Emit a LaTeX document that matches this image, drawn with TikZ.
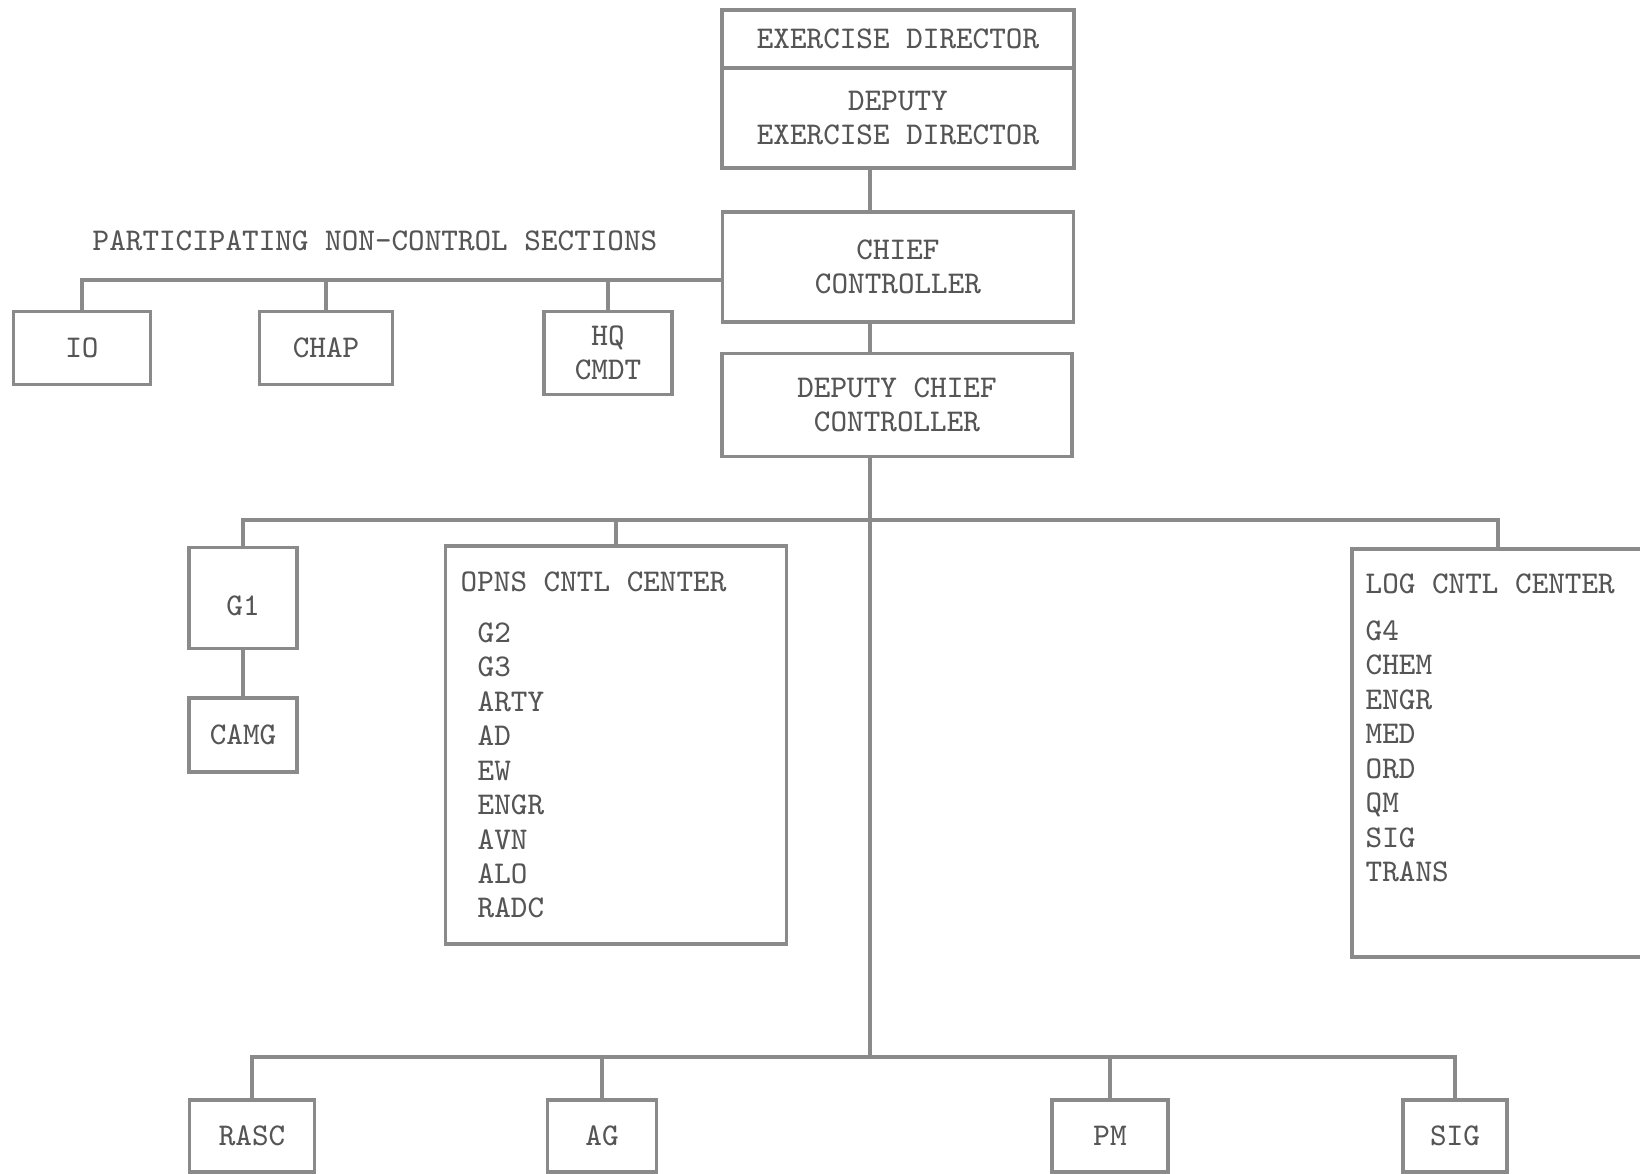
\documentclass[tikz,border=0pt]{standalone}
\usepackage{fontspec}
\usetikzlibrary{positioning}
\definecolor{ink}{HTML}{555555}
\definecolor{rulegray}{HTML}{8A8A8A}

\begin{document}
\begin{tikzpicture}[x=0.1mm, y=-0.1mm,
    box/.style={draw=rulegray, line width=1pt, text=ink, font=\fontsize{9}{9.8}\selectfont\ttfamily, align=center, inner sep=0pt},
    link/.style={draw=rulegray, line width=1pt},
    lbl/.style={text=ink, font=\fontsize{9}{9.8}\selectfont\ttfamily, inner sep=0pt}]
            \useasboundingbox (0,0) rectangle (1640,1174);

            % Top of the chain
            \node[box, minimum width=35.2mm, minimum height=5.8mm] (ed) at (898,39) {EXERCISE DIRECTOR};
            \node[box, minimum width=35.2mm, minimum height=10mm] (ded) at (898,118) {DEPUTY\\EXERCISE DIRECTOR};
            \node[box, minimum width=35.1mm, minimum height=11mm] (cc) at (898,267) {CHIEF\\CONTROLLER};
            \node[box, minimum width=35mm, minimum height=10.3mm] (dcc) at (897,405) {DEPUTY CHIEF\\CONTROLLER};

            \coordinate (spine) at (870,0);
            \draw[link] (ded.south -| spine) -- (cc.north -| spine);
            \draw[link] (cc.south -| spine) -- (dcc.north -| spine);

            % Non-control sections
            \node[lbl] (pncs) at (375,241) {PARTICIPATING NON-CONTROL SECTIONS};
            \coordinate (pbus) at (82,280);
            \node[box, minimum width=13.7mm, minimum height=7.3mm] (io) at (82,348) {IO};
            \node[box, minimum width=13.3mm, minimum height=7.3mm] (chap) at (326,348) {CHAP};
            \node[box, minimum width=12.8mm, minimum height=8.3mm] (hq) at (608,353) {HQ\\CMDT};

            \draw[link] (cc.west |- pbus) -| (io.north);
            \draw[link] (chap.north) -- (chap.north |- pbus);
            \draw[link] (hq.north) -- (hq.north |- pbus);

            % Control centers
            \coordinate (lbus) at (1498,520);
            \node[box, minimum width=10.8mm, minimum height=10.1mm] (g1) at (243,598) {\mbox{}\\G1};
            \node[box, minimum width=10.8mm, minimum height=7.4mm] (camg) at (243,735) {CAMG};
            \node[box, minimum width=34.1mm, minimum height=39.8mm] (opns) at (616,745) {};
            \node[box, minimum width=30.8mm, minimum height=40.8mm] (log) at (1506,753) {};

            \node[lbl, anchor=west] (opnsttl) at (460,582) {OPNS CNTL CENTER};
            \node[lbl, anchor=north west, align=left] (opnsitems) at (477,622) {G2\\G3\\ARTY\\AD\\EW\\ENGR\\AVN\\ALO\\RADC};
            \node[lbl, anchor=west] (logttl) at (1365,584) {LOG CNTL CENTER};
            \node[lbl, anchor=north west, align=left] (logitems) at (1365,620) {G4\\CHEM\\ENGR\\MED\\ORD\\QM\\SIG\\TRANS};

            \draw[link] (g1.north) |- (lbus) -- (log.north -| lbus);
            \draw[link] (opns.north) -- (opns.north |- lbus);
            \draw[link] (g1) -- (camg);

            % Special staff
            \coordinate (bbus) at (0,1057);
            \node[box, minimum width=12.5mm, minimum height=7.2mm] (rasc) at (252,1136) {RASC};
            \node[box, minimum width=10.9mm, minimum height=7.2mm] (ag) at (602,1136) {AG};
            \node[box, minimum width=11.6mm, minimum height=7.2mm] (pm) at (1110,1136) {PM};
            \node[box, minimum width=10.4mm, minimum height=7.2mm] (sig) at (1455,1136) {SIG};

            \draw[link] (dcc.south -| spine) -- (spine |- bbus);
            \draw[link] (rasc.north) |- (sig.north |- bbus) -- (sig.north);
            \draw[link] (ag.north) -- (ag.north |- bbus);
            \draw[link] (pm.north) -- (pm.north |- bbus);

        \end{tikzpicture}
\end{document}
